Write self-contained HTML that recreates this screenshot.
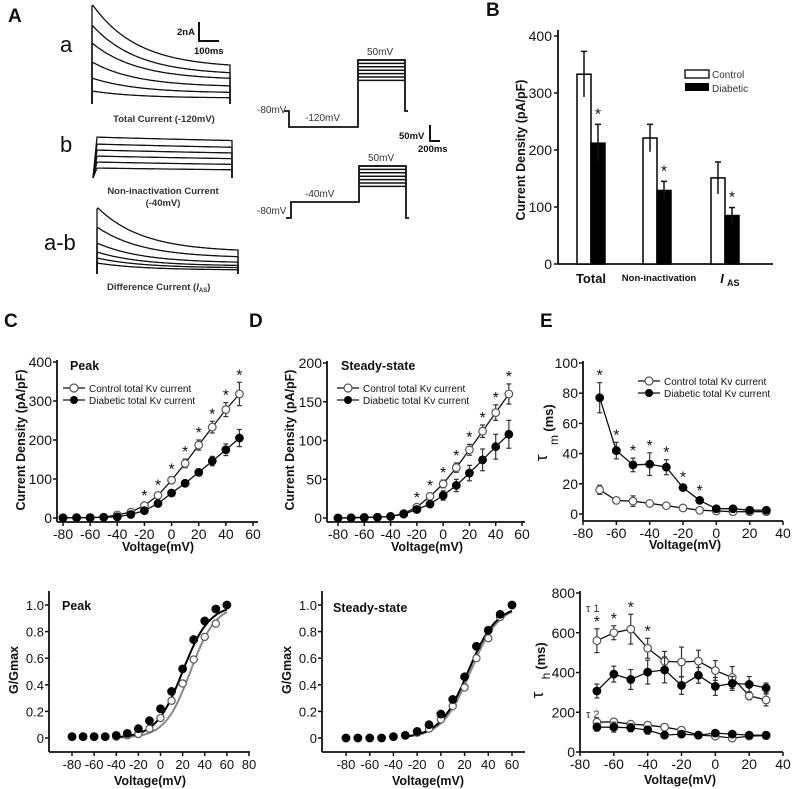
<!DOCTYPE html>
<html><head><meta charset="utf-8">
<style>
html,body{margin:0;padding:0;background:#fff;}
svg{display:block;font-family:"Liberation Sans",Arial,sans-serif;}
</style></head>
<body>
<svg id="fig" width="796" height="789" viewBox="0 0 796 789" xmlns="http://www.w3.org/2000/svg"></svg>
<script>
// ---------- DATA ----------
const ivVolt = [-80,-70,-60,-50,-40,-30,-20,-10,0,10,20,30,40,50];
const peakCtrl = [1,1,1,2,8,15,32,58,97,140,187,233,278,318];
const peakCtrlErr = [2,2,2,3,4,5,6,7,9,11,13,15,18,30];
const peakDiab = [0,1,1,2,3,9,19,37,64,89,117,146,175,205];
const peakDiabErr = [2,2,2,2,3,3,4,5,6,7,8,12,15,22];
const peakStars = [-20,-10,0,10,20,30,40,50];
const ssCtrl = [0,0.5,1,1,2,6,14,28,44,65,88,112,136,160];
const ssCtrlErr = [1,1,1,1,1,2,3,4,5,6,7,8,10,13];
const ssDiab = [0,0,0.5,1,2,5,11,18,29,42,58,75,92,108];
const ssDiabErr = [1,1,1,1,1,2,3,4,6,8,10,14,16,18];
const ssStars = [-20,-10,0,10,20,30,40,50];
const tauVolt = [-70,-60,-50,-40,-30,-20,-10,0,10,20,30];
const tauMCtrl = [16,9,8.5,7,5.5,4,2.5,2,1.5,1.5,1.5];
const tauMCtrlErr = [3,1.5,3.5,1.5,1,1,1,1,1,1,1];
const tauMDiab = [77,42,32.5,33,31,17.5,9,3.5,3.5,2.5,2.5];
const tauMDiabErr = [10,5.5,4.5,7.5,5,2,1.5,1,1,1,1];
const tauMStars = [-70,-60,-50,-40,-30,-20,-10];
const tauH1Ctrl = [560,600,618,522,456,453,457,410,375,283,262];
const tauH1CtrlErr = [60,35,75,50,50,75,55,50,55,20,30];
const tauH1Diab = [307,392,365,402,413,335,386,330,345,340,322];
const tauH1DiabErr = [35,40,50,60,65,45,40,45,35,40,25];
const tauH2Ctrl = [150,152,140,135,125,110,85,80,70,80,82];
const tauH2CtrlErr = [10,10,10,10,10,10,10,10,10,10,10];
const tauH2Diab = [125,125,122,110,85,90,85,95,90,85,85];
const tauH2DiabErr = [20,25,20,20,10,10,10,10,10,10,10];
const tauHStars = [-70,-60,-50,-40];
const gVoltDiab = [-80,-70,-60,-50,-40,-30,-20,-10,0,10,20,30,40,50,60];
const gPeakDiab = [0.01,0.01,0.01,0.01,0.02,0.035,0.07,0.13,0.22,0.35,0.52,0.74,0.88,0.97,1.0];
const gVoltCtrl = [-80,-70,-60,-50,-40,-30,-20,-10,0,10,20,30,40,50];
const gPeakCtrl = [0.01,0.01,0.01,0.01,0.01,0.02,0.03,0.07,0.15,0.28,0.41,0.59,0.76,0.86];
const gSsDiab = [0,0,0,0,0.01,0.02,0.05,0.10,0.18,0.29,0.46,0.69,0.81,0.93,1.0];
const gSsCtrl = [0,0,0,0,0.01,0.02,0.04,0.07,0.14,0.24,0.38,0.60,0.75,0.91,1.0];
const fitPeakHalf = [20,27];
const fitPeakK = [12,11.5];
const fitSsHalf = [23,25];
const fitSsK = [12,12];
const barGroups = ["Total","Non-inactivation","IAS"];
const barCtrl = [333,221,151];
const barCtrlErr = [40,24,28];
const barDiab = [212,129,85];
const barDiabErr = [33,16,14];

// ---------- HELPERS ----------
const NS="http://www.w3.org/2000/svg";
const svg=document.getElementById('fig');
function mk(tag,attrs,parent){
  const el=document.createElementNS(NS,tag);
  for(const k in attrs) el.setAttribute(k,attrs[k]);
  (parent||svg).appendChild(el);
  return el;
}
function txt(s,x,y,size,name,opt){
  opt=opt||{};
  const el=mk('text',{x:x,y:y,'font-size':size,'text-anchor':opt.anchor||'start','font-weight':opt.bold?'bold':'normal',fill:opt.fill||'#111'},opt.parent);
  if(opt.rot) el.setAttribute('transform','rotate(-90 '+x+' '+y+')');
  el.textContent=s;
  
  
  return el;
}
function lin(d0,d1,r0,r1){return v=>r0+(v-d0)*(r1-r0)/(d1-d0);}
function group(name){
  const g=mk('g',{});
  
  
  return g;
}
function line(x1,y1,x2,y2,g,name,w,col){
  const el=mk('line',{x1:x1,y1:y1,x2:x2,y2:y2,stroke:col||'#111','stroke-width':w||1.5},g);
  
  
  return el;
}
function pathEl(d,g,name,w,col){
  const el=mk('path',{d:d,fill:'none',stroke:col||'#111','stroke-width':w||1.2},g);
  
  
  return el;
}
function axes(g,c){
  line(c.ax,c.yTop,c.ax,c.ay,g,'y-axis-line',1.8);
  line(c.ax,c.ay,c.xEnd,c.ay,g,'x-axis-line',1.8);
  c.yTicks.forEach(v=>{
    const y=c.Y(v);
    line(c.ax-4,y,c.ax,y,g,'y-tick',1.5);
    txt(c.yFmt?c.yFmt(v):String(v),c.ax-5,y+5,c.fs,'y-tick-label',{anchor:'end',parent:g});
  });
  c.xTicks.forEach(v=>{
    const x=c.X(v);
    line(x,c.ay,x,c.ay+4,g,'x-tick',1.5);
    txt(String(v),x,c.ay+17,c.fs,'x-tick-label',{anchor:'middle',parent:g});
  });
}
function series(g,c,xs,ys,errs,filled,name,r,noLine){
  if(!noLine){
    let d='';
    xs.forEach((x,i)=>{d+=(i?'L':'M')+c.X(x).toFixed(1)+' '+c.Y(ys[i]).toFixed(1);});
    pathEl(d,g,name+'-line',1.3);
  }
  xs.forEach((x,i)=>{
    if(errs){
      const cx=c.X(x),y1=c.Y(ys[i]+errs[i]),y2=c.Y(ys[i]-errs[i]);
      line(cx,y1,cx,y2,g,name+'-error-bar',1.2,'#333');
      line(cx-2.5,y1,cx+2.5,y1,g,name+'-error-cap',1.2,'#333');
      line(cx-2.5,y2,cx+2.5,y2,g,name+'-error-cap',1.2,'#333');
    }
  });
  xs.forEach((x,i)=>{
    const el=mk('circle',{cx:c.X(x),cy:c.Y(ys[i]),r:r||3.8,fill:filled?'#000':'#fff',stroke:filled?'#000':'#555','stroke-width':1.2},g);
    
    
  });
}
function stars(g,c,vs,xs,ys,errs){
  vs.forEach(v=>{
    const i=xs.indexOf(v);
    const y=c.Y(ys[i]+errs[i]);
    txt('*',c.X(v),y-2,16,'significance-star',{anchor:'middle',parent:g});
  });
}
function legend(g,x,y,fs){
  line(x,y,x+22,y,g,'legend-line',1.2);
  const a=mk('circle',{cx:x+11,cy:y,r:4,fill:'#fff',stroke:'#555','stroke-width':1.2},g);
  
  
  txt('Control  total Kv current',x+26,y+4,fs,'legend-control-label',{parent:g});
  line(x,y+12,x+22,y+12,g,'legend-line',1.2);
  const b=mk('circle',{cx:x+11,cy:y+12,r:4,fill:'#000'},g);
  
  
  txt('Diabetic total Kv current',x+26,y+16,fs,'legend-diabetic-label',{parent:g});
}
function boltz(g,c,half,k,x0,x1,col,name){
  let d='';
  for(let v=x0;v<=x1;v+=1){
    const gv=1/(1+Math.exp((half-v)/k));
    d+=(v===x0?'M':'L')+c.X(v).toFixed(1)+' '+c.Y(gv).toFixed(1);
  }
  pathEl(d,g,name,2,col);
}

// ---------- PANEL LETTERS ----------
txt('A',8,22,19,'panel-label-a',{bold:true});
txt('B',486,16,19,'panel-label-b',{bold:true});
txt('C',4,327,19,'panel-label-c',{bold:true});
txt('D',249,327,19,'panel-label-d',{bold:true});
txt('E',540,327,19,'panel-label-e',{bold:true});

// ---------- PANEL A ----------
const traceAPeaks=[4,25,43,62,78,91];
const traceAEnds=[68,75,80,87,93,98];
const traceBStarts=[137,144,150,156,162,168];
const traceBEnds=[149,155,160,165,170,174];
const traceABPeaks=[207,227,243,252,258,263];
const traceABEnds=[252,258,263,266,268,270];
(function(){
  const g=group('panel-a-current-traces');
  function traces(peaks,ends,x0,x1,base,tau,rise,name){
    peaks.forEach((p,i)=>{
      let d='M'+x0+' '+base;
      if(!rise) d+='L'+x0+' '+(p+2);
      for(let x=x0+1;x<=x1;x+=1){
        const t=(x-x0);
        const v=ends[i]+(p-ends[i])*Math.exp(-t/tau);
        const r=rise?Math.min(1,t/rise):1;
        const y=base+(v-base)*r;
        d+='L'+x+' '+y.toFixed(1);
      }
      d+='L'+x1+' '+base;
      pathEl(d,g,name+'-'+(i+1),1.3);
    });
  }
  traces(traceAPeaks,traceAEnds,92,230,104,45,0,'total-current-trace');
  traces(traceBStarts,traceBEnds,93,232,178,400,4,'non-inactivation-trace');
  traces(traceABPeaks,traceABEnds,97,238,274,45,0,'difference-current-trace');
  txt('a',60,52,22,'trace-label-a',{});
  txt('b',60,152,22,'trace-label-b',{});
  txt('a-b',44,250,22,'trace-label-a-b',{});
  txt('Total Current (-120mV)',164,122,9.5,'total-current-caption',{anchor:'middle',bold:true,fill:'#333'});
  txt('Non-inactivation  Current',163,194,9.5,'non-inactivation-caption',{anchor:'middle',bold:true,fill:'#333'});
  txt('(-40mV)',163,206,9.5,'non-inactivation-caption-2',{anchor:'middle',bold:true,fill:'#333'});
  const dc=txt('Difference Current (',107,290,9.5,'difference-caption',{bold:true,fill:'#333'});
  const ti=mk('tspan',{'font-style':'italic'},dc); ti.textContent='I';
  const ts=mk('tspan',{'font-size':6,dy:2},dc); ts.textContent='AS';
  const tc=mk('tspan',{dy:-2},dc); tc.textContent=')';
  txt('2nA',177,35,9.5,'scale-bar-current',{bold:true});
  pathEl('M199 22L199 41L219 41',g,'scale-bar',2);
  txt('100ms',194,54,9.5,'scale-bar-time',{bold:true});
  const p=group('panel-a-voltage-protocols');
  pathEl('M284 111L289 111L289 127L358 127L358 60L405 60L405 111L408 111',p,'protocol-120',1.8);
  for(let i=0;i<7;i++) line(358,60+i*3.4,405,60+i*3.4,p,'protocol-step',1.5);
  txt('-80mV',257,113,10,'protocol-label-80',{fill:'#333'});
  txt('-120mV',305,121,10,'protocol-label-120',{fill:'#333'});
  txt('50mV',367,55,10,'protocol-label-50',{fill:'#333'});
  txt('50mV',399,139,9.5,'protocol-scale-voltage',{bold:true});
  pathEl('M430 125L430 141L440 141',p,'protocol-scale-bar',2);
  txt('200ms',418,152,9.5,'protocol-scale-time',{bold:true});
  pathEl('M286 218L291 218L291 202L359 202L359 166L406 166L406 218L409 218',p,'protocol-40',1.8);
  for(let i=0;i<7;i++) line(359,166+i*3.4,406,166+i*3.4,p,'protocol-step',1.5);
  txt('-80mV',257,214,10,'protocol-label-80b',{fill:'#333'});
  txt('-40mV',305,197,10,'protocol-label-40',{fill:'#333'});
  txt('50mV',368,161,10,'protocol-label-50b',{fill:'#333'});
})();

// ---------- PANEL B ----------
(function(){
  const g=group('panel-b-bar-chart');
  const Y=lin(0,400,264,36);
  line(558,30,558,264,g,'y-axis-line',1.8);
  line(558,264,773,264,g,'x-axis-line',1.8);
  [0,100,200,300,400].forEach(v=>{line(554,Y(v),558,Y(v),g,'y-tick',1.5);txt(String(v),552,Y(v)+5,14,'y-tick-label',{anchor:'end'});});
  txt('Current Density (pA/pF)',525,150,12.5,'y-axis-title',{anchor:'middle',bold:true,rot:true});
  const gx=[591,657,725];
  barGroups.forEach((n,i)=>{
    const x=gx[i];
    const c=mk('rect',{x:x-14,y:Y(barCtrl[i]),width:14,height:264-Y(barCtrl[i]),fill:'#fff',stroke:'#000','stroke-width':1.5},g);
    
    
    const d=mk('rect',{x:x,y:Y(barDiab[i]),width:14,height:264-Y(barDiab[i]),fill:'#000',stroke:'#000','stroke-width':1.5},g);
    
    
    [[x-7,barCtrl[i],barCtrlErr[i]],[x+7,barDiab[i],barDiabErr[i]]].forEach(a=>{
      line(a[0],Y(a[1]-a[2]),a[0],Y(a[1]+a[2]),g,'error-bar',1.5);
      line(a[0]-3,Y(a[1]+a[2]),a[0]+3,Y(a[1]+a[2]),g,'error-cap',1.5);
    });
    txt('*',x+7,Y(barDiab[i]+barDiabErr[i])-5,16,'significance-star',{anchor:'middle'});
  });
  txt('Total',591,283,13,'x-label-total',{anchor:'middle',bold:true});
  txt('Non-inactivation',659,281,9.5,'x-label-non-inactivation',{anchor:'middle',bold:true});
  const ias=txt('I',722,283,13,'x-label-ias',{anchor:'middle',bold:true});
  ias.setAttribute('font-style','italic');
  txt('AS',727,286,9,'x-label-ias-sub',{bold:true});
  const l1=mk('rect',{x:685,y:70,width:24,height:8,fill:'#fff',stroke:'#000','stroke-width':1.3},g);
  
  
  const l2=mk('rect',{x:685,y:83,width:24,height:8,fill:'#000'},g);
  
  
  txt('Control',712,78,10,'legend-control-label',{fill:'#333'});
  txt('Diabetic',712,92,10,'legend-diabetic-label',{fill:'#333'});
})();

// ---------- PANEL C top ----------
(function(){
  const g=group('panel-c-peak-iv');
  const c={ax:57,ay:522,yTop:360,xEnd:258,X:lin(-80,60,63,253),Y:lin(0,400,518,362),yTicks:[0,100,200,300,400],xTicks:[-80,-60,-40,-20,0,20,40,60],fs:14};
  axes(g,c);
  series(g,c,ivVolt,peakCtrl,peakCtrlErr,false,'control-peak');
  series(g,c,ivVolt,peakDiab,peakDiabErr,true,'diabetic-peak');
  stars(g,c,peakStars,ivVolt,peakCtrl,peakCtrlErr);
  legend(g,63,388,10);
  txt('Peak',70,370,12.5,'panel-c-title',{bold:true});
  txt('Current Density (pA/pF)',25,440,12.5,'y-axis-title',{anchor:'middle',bold:true,rot:true});
  txt('Voltage(mV)',158,551,12.5,'x-axis-title',{anchor:'middle',bold:true});
})();
// ---------- PANEL D top ----------
(function(){
  const g=group('panel-d-steady-iv');
  const c={ax:327,ay:522,yTop:361,xEnd:525,X:lin(-80,60,338,522),Y:lin(0,200,518,363),yTicks:[0,50,100,150,200],xTicks:[-80,-60,-40,-20,0,20,40,60],fs:14};
  axes(g,c);
  series(g,c,ivVolt,ssCtrl,ssCtrlErr,false,'control-steady');
  series(g,c,ivVolt,ssDiab,ssDiabErr,true,'diabetic-steady');
  stars(g,c,ssStars,ivVolt,ssCtrl,ssCtrlErr);
  legend(g,337,388,10);
  txt('Steady-state',341,370,12.5,'panel-d-title',{bold:true});
  txt('Current Density (pA/pF)',294,440,12.5,'y-axis-title',{anchor:'middle',bold:true,rot:true});
  txt('Voltage(mV)',427,551,12.5,'x-axis-title',{anchor:'middle',bold:true});
})();
// ---------- PANEL E top ----------
(function(){
  const g=group('panel-e-tau-m');
  const c={ax:583,ay:521,yTop:361,xEnd:783,X:lin(-80,40,583,783),Y:lin(0,100,514,363),yTicks:[0,20,40,60,80,100],xTicks:[-80,-60,-40,-20,0,20,40],fs:14};
  axes(g,c);
  series(g,c,tauVolt,tauMCtrl,tauMCtrlErr,false,'control-tau-m');
  series(g,c,tauVolt,tauMDiab,tauMDiabErr,true,'diabetic-tau-m');
  stars(g,c,tauMStars,tauVolt,tauMDiab,tauMDiabErr);
  legend(g,638,381,10);
  txt('τ',547,458,17,'y-axis-title-tau',{anchor:'middle',rot:true});
  txt('m',558,440,12,'y-axis-title-sub',{anchor:'middle',rot:true});
  txt('(ms)',553,418,13,'y-axis-title-unit',{anchor:'middle',bold:true,rot:true});
  txt('Voltage(mV)',685,549,12.5,'x-axis-title',{anchor:'middle',bold:true});
})();
// ---------- PANEL C bottom ----------
(function(){
  const g=group('panel-c-peak-conductance');
  const c={ax:49,ay:752,yTop:591,xEnd:250,X:lin(-80,80,72,249),Y:lin(0,1,738,605),yTicks:[0,0.2,0.4,0.6,0.8,1.0],yFmt:v=>v===0?'0':v.toFixed(1),xTicks:[-80,-60,-40,-20,0,20,40,60,80],fs:13};
  axes(g,c);
  boltz(g,c,fitPeakHalf[1],fitPeakK[1],-40,60,'#888','control-fit-curve');
  boltz(g,c,fitPeakHalf[0],fitPeakK[0],-40,60,'#000','diabetic-fit-curve');
  series(g,c,gVoltCtrl,gPeakCtrl,null,false,'control-g',3.6,true);
  series(g,c,gVoltDiab,gPeakDiab,null,true,'diabetic-g',3.8,true);
  txt('Peak',62,610,12.5,'panel-title',{bold:true});
  txt('G/Gmax',18,670,12.5,'y-axis-title',{anchor:'middle',bold:true,rot:true});
  txt('Voltage(mV)',150,785,12.5,'x-axis-title',{anchor:'middle',bold:true});
})();
// ---------- PANEL D bottom ----------
(function(){
  const g=group('panel-d-steady-conductance');
  const c={ax:322,ay:752,yTop:591,xEnd:525,X:lin(-80,60,346,512),Y:lin(0,1,738,605),yTicks:[0,0.2,0.4,0.6,0.8,1.0],yFmt:v=>v===0?'0':v.toFixed(1),xTicks:[-80,-60,-40,-20,0,20,40,60],fs:13};
  axes(g,c);
  boltz(g,c,fitSsHalf[1],fitSsK[1],-30,60,'#888','control-fit-curve');
  boltz(g,c,fitSsHalf[0],fitSsK[0],-30,60,'#000','diabetic-fit-curve');
  series(g,c,gVoltDiab,gSsCtrl,null,false,'control-g',3.6,true);
  series(g,c,gVoltDiab,gSsDiab,null,true,'diabetic-g',3.8,true);
  txt('Steady-state',333,612,12.5,'panel-title',{bold:true});
  txt('G/Gmax',291,670,12.5,'y-axis-title',{anchor:'middle',bold:true,rot:true});
  txt('Voltage(mV)',428,785,12.5,'x-axis-title',{anchor:'middle',bold:true});
})();
// ---------- PANEL E bottom ----------
(function(){
  const g=group('panel-e-tau-h');
  const c={ax:580,ay:752,yTop:591,xEnd:783,X:lin(-80,40,580,783),Y:lin(0,800,752,593),yTicks:[0,200,400,600,800],xTicks:[-80,-60,-40,-20,0,20,40],fs:14};
  axes(g,c);
  series(g,c,tauVolt,tauH2Ctrl,tauH2CtrlErr,false,'control-tau2');
  series(g,c,tauVolt,tauH2Diab,tauH2DiabErr,true,'diabetic-tau2');
  series(g,c,tauVolt,tauH1Ctrl,tauH1CtrlErr,false,'control-tau1');
  series(g,c,tauVolt,tauH1Diab,tauH1DiabErr,true,'diabetic-tau1');
  stars(g,c,tauHStars,tauVolt,tauH1Ctrl,tauH1CtrlErr);
  txt('τ 1',586,612,11,'tau1-label',{fill:'#333'});
  txt('τ 2',586,718,11,'tau2-label',{fill:'#333'});
  txt('τ',543,695,17,'y-axis-title-tau',{anchor:'middle',rot:true});
  txt('h',550,676,12,'y-axis-title-sub',{anchor:'middle',rot:true});
  txt('(ms)',545,656,13,'y-axis-title-unit',{anchor:'middle',bold:true,rot:true});
  txt('Voltage(mV)',680,784,12.5,'x-axis-title',{anchor:'middle',bold:true});
})();
</script>
</body></html>
